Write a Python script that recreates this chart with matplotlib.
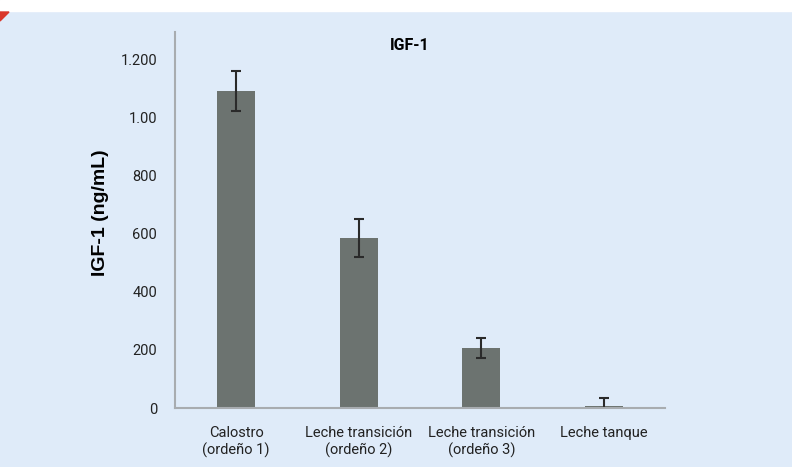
import numpy as np
import matplotlib.pyplot as plt
from matplotlib.patches import Polygon

categories = ["Calostro\n(ordeño 1)", "Leche transición\n(ordeño 2)",
              "Leche transición\n(ordeño 3)", "Leche tanque"]
values = [1093, 586, 207, 8]
errors = [70, 67, 33, 28]
yticks = [0, 200, 400, 600, 800, 1000, 1200]
ytick_labels = ["0", "200", "400", "600", "800", "1.00", "1.200"]

plt.rcParams['font.family'] = ['Roboto', 'DejaVu Sans']

bg = "#dfebf9"
fig = plt.figure(figsize=(7.92, 4.67), dpi=100)
fig.patch.set_facecolor(bg)
# white strip on top and red corner mark
fig.add_artist(plt.Rectangle((0, 1 - 11/467), 1, 11/467, transform=fig.transFigure,
                             color="white", zorder=0))
fig.add_artist(Polygon([(0, 1 - 12/467), (9/792, 1 - 12/467), (0, 1 - 21/467)],
                       closed=True, transform=fig.transFigure, color="#d9372b"))

ax = fig.add_axes([175/792, 1 - 408/467, 490/792, 376/467])
ax.set_facecolor(bg)

x = np.arange(len(categories))
ax.bar(x, values, width=0.31, color="#6c7370")
ax.errorbar(x, values, yerr=[[min(v, e) for v, e in zip(values, errors)], errors],
            fmt="none", ecolor="#2a2a2a", elinewidth=1.5, capsize=3.5, capthick=1.5)

ax.set_xlim(-0.5, 3.5)
ax.set_ylim(0, 1296)
ax.set_yticks(yticks)
ax.set_yticklabels(ytick_labels)
ax.set_xticks(x)
ax.set_xticklabels(categories)
ax.tick_params(axis="both", length=0, labelsize=10.5, colors="#222222")
ax.tick_params(axis="y", pad=13)
ax.tick_params(axis="x", pad=13)

for s in ["top", "right"]:
    ax.spines[s].set_visible(False)
for s in ["left", "bottom"]:
    ax.spines[s].set_color("#a8acb0")
    ax.spines[s].set_linewidth(1.5)

ax.set_ylabel("IGF-1 (ng/mL)", fontsize=14, fontweight="bold",
              family=['Liberation Sans', 'DejaVu Sans'])
ax.yaxis.set_label_coords(-66/490, 0.52)
fig.text(410/792, 1 - 46/467, "IGF-1", fontsize=11.5, fontweight="bold",
         ha="center", va="center")

fig.savefig("out.png", dpi=100, facecolor=bg)
